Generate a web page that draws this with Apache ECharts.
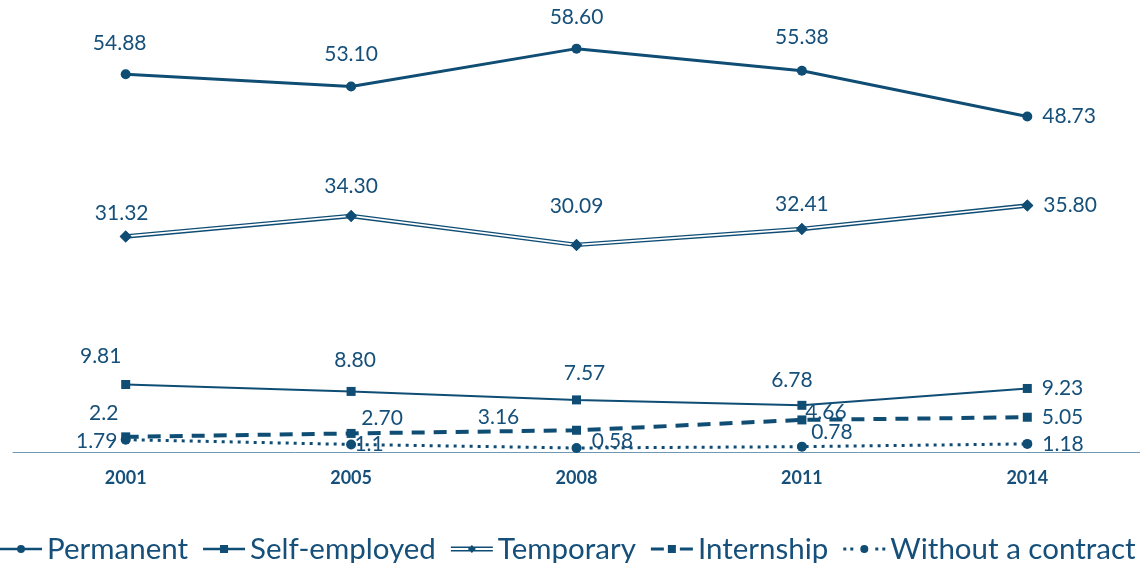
<!DOCTYPE html>
<html>
<head>
<meta charset="utf-8">
<script src="https://cdn.jsdelivr.net/npm/echarts@6/dist/echarts.min.js"></script>
<style>
  html, body { margin: 0; padding: 0; background: #ffffff; }
  #chart { width: 1140px; height: 563px; }
</style>
</head>
<body>
<div id="chart"></div>
<script>
// Survey years on the horizontal axis
const categories = ['2001', '2005', '2008', '2011', '2014'];

// Share of each contract type (%), kept as written so labels show the same text
const permanent       = ['54.88', '53.10', '58.60', '55.38', '48.73'];
const temporary       = ['31.32', '34.30', '30.09', '32.41', '35.80'];
const selfEmployed    = ['9.81', '8.80', '7.57', '6.78', '9.23'];
const internship      = ['2.2', '2.70', '3.16', '4.66', '5.05'];
const withoutContract = ['1.79', '1.1', '0.58', '0.78', '1.18'];

const seriesNames = ['Permanent', 'Self-employed', 'Temporary', 'Internship', 'Without a contract'];

const INK = '#0f4d74';
const TEXT = '#16507a';
const FONT = 'Lato';

// Label placement per point: [dx, dy] from the marker centre, or 'right'
const labelPlacement = {
  permanent:    [[-6, -31], [0, -32], [0, -31], [0, -34], 'right'],
  temporary:    [[-4, -23], [0, -30], [0, -39], [0, -25], 'right'],
  selfEmployed: [[-25, -28], [4, -31], [8, -27], [-10, -25], 'right'],
  internship:   [[-22, -24], [31, -15], [-78, -13], [24, -8], 'right'],
  without:      [[-29, 2], [18, 0], [36, -7], [30, -14], 'right']
};

function buildData(values, places) {
  return values.map(function (txt, i) {
    const p = places[i];
    const label = p === 'right'
      ? { position: 'right', distance: 10 }
      : { position: 'inside', offset: p };
    return { value: Number(txt), label: label };
  });
}

function labelFormatter(values) {
  return function (params) { return values[params.dataIndex]; };
}

const labelBase = {
  show: true,
  color: TEXT,
  fontFamily: FONT,
  fontSize: 21,
  lineHeight: 24
};

// Legend glyphs drawn in a 42 x 8 box
const icons = {
  permanent: 'path://M0 2.8L42 2.8L42 5.2L0 5.2Z M17 4A4 4 0 1 1 25 4A4 4 0 1 1 17 4Z',
  selfEmployed: 'path://M0 2.8L42 2.8L42 5.2L0 5.2Z M17 0L25 0L25 8L17 8Z',
  temporary: 'path://M0 1.6L42 1.6L42 3L0 3Z M0 5L42 5L42 6.4L0 6.4Z M21 0L25 4L21 8L17 4Z',
  internship: 'path://M0 2.5L13 2.5L13 5.5L0 5.5Z M29 2.5L42 2.5L42 5.5L29 5.5Z M17 0L25 0L25 8L17 8Z',
  without: 'path://M0 2.5L3 2.5L3 5.5L0 5.5Z M7 2.5L10 2.5L10 5.5L7 5.5Z M32 2.5L35 2.5L35 5.5L32 5.5Z M39 2.5L42 2.5L42 5.5L39 5.5Z M17 4A4 4 0 1 1 25 4A4 4 0 1 1 17 4Z'
};

const chart = echarts.init(document.getElementById('chart'), null, { renderer: 'canvas' });

chart.setOption({
  animation: false,
  backgroundColor: '#ffffff',
  grid: { left: 13, width: 1132, top: 39, height: 413, containLabel: false },
  legend: {
    left: 0,
    top: 534,
    width: 1300,
    padding: 0,
    itemWidth: 42,
    itemHeight: 8,
    itemGap: 15,
    textStyle: { color: TEXT, fontFamily: FONT, fontSize: 29.5, lineHeight: 30 },
    data: [
      { name: seriesNames[0], icon: icons.permanent, itemStyle: { color: INK } },
      { name: seriesNames[1], icon: icons.selfEmployed, itemStyle: { color: INK } },
      { name: seriesNames[2], icon: icons.temporary, itemStyle: { color: INK } },
      { name: seriesNames[3], icon: icons.internship, itemStyle: { color: INK } },
      { name: seriesNames[4], icon: icons.without, itemStyle: { color: INK } }
    ]
  },
  xAxis: {
    type: 'category',
    data: categories,
    boundaryGap: true,
    axisLine: { show: true, lineStyle: { color: '#6e98b3', width: 1 } },
    axisTick: { show: false },
    axisLabel: { color: TEXT, fontFamily: FONT, fontWeight: 'bold', fontSize: 18, margin: 17 },
    splitLine: { show: false }
  },
  yAxis: {
    type: 'value',
    min: 0,
    max: 60,
    show: false,
    splitLine: { show: false }
  },
  series: [
    {
      name: seriesNames[0],
      type: 'line',
      data: buildData(permanent, labelPlacement.permanent),
      symbol: 'circle',
      symbolSize: 10,
      lineStyle: { color: INK, width: 3 },
      itemStyle: { color: INK },
      label: Object.assign({}, labelBase, { formatter: labelFormatter(permanent) }),
      z: 3
    },
    {
      name: seriesNames[1],
      type: 'line',
      data: buildData(selfEmployed, labelPlacement.selfEmployed),
      symbol: 'rect',
      symbolSize: 9,
      lineStyle: { color: INK, width: 2 },
      itemStyle: { color: INK },
      label: Object.assign({}, labelBase, { formatter: labelFormatter(selfEmployed) }),
      z: 3
    },
    {
      name: seriesNames[2],
      type: 'line',
      data: buildData(temporary, labelPlacement.temporary),
      symbol: 'diamond',
      symbolSize: 12,
      lineStyle: { color: INK, width: 4.5 },
      itemStyle: { color: INK },
      label: Object.assign({}, labelBase, { formatter: labelFormatter(temporary) }),
      z: 3
    },
    {
      // white core that turns the Temporary line into a double stroke
      name: 'Temporary core',
      type: 'line',
      data: temporary.map(Number),
      symbol: 'diamond',
      symbolSize: 12,
      lineStyle: { color: '#ffffff', width: 1.6 },
      itemStyle: { color: INK },
      label: { show: false },
      silent: true,
      z: 4
    },
    {
      name: seriesNames[3],
      type: 'line',
      data: buildData(internship, labelPlacement.internship),
      symbol: 'rect',
      symbolSize: 9,
      lineStyle: { color: INK, width: 4, type: [13, 9] },
      itemStyle: { color: INK },
      label: Object.assign({}, labelBase, { formatter: labelFormatter(internship) }),
      z: 3
    },
    {
      name: seriesNames[4],
      type: 'line',
      data: buildData(withoutContract, labelPlacement.without),
      symbol: 'circle',
      symbolSize: 10,
      lineStyle: { color: INK, width: 3, type: [3, 5] },
      itemStyle: { color: INK },
      label: Object.assign({}, labelBase, { formatter: labelFormatter(withoutContract) }),
      z: 3
    }
  ]
});
</script>
</body>
</html>
